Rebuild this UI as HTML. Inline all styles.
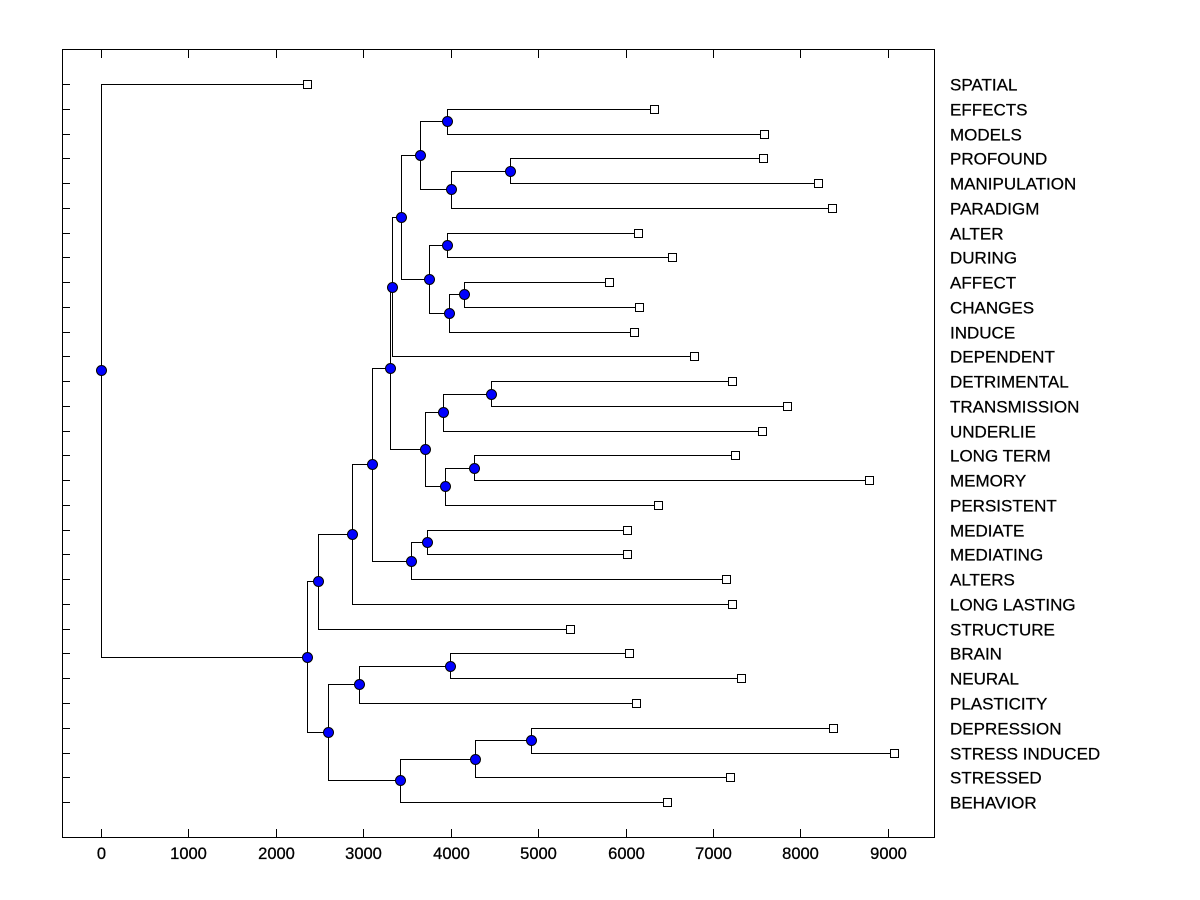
<!DOCTYPE html>
<html><head><meta charset="utf-8"><style>
body{margin:0;background:#fff;}
svg{display:block;font-family:"Liberation Sans",Arial,sans-serif;}
</style></head><body>
<svg id="chart" width="1200" height="900" xmlns="http://www.w3.org/2000/svg">
<rect x="62.5" y="49.5" width="872" height="788" fill="#fff" stroke="#000" stroke-width="1"/>
<g id="axes"></g><g id="links"></g><g id="marks"></g><g id="labels"></g>
</svg>
<script>
const leafNames=["SPATIAL","EFFECTS","MODELS","PROFOUND","MANIPULATION","PARADIGM","ALTER","DURING","AFFECT","CHANGES","INDUCE","DEPENDENT","DETRIMENTAL","TRANSMISSION","UNDERLIE","LONG TERM","MEMORY","PERSISTENT","MEDIATE","MEDIATING","ALTERS","LONG LASTING","STRUCTURE","BRAIN","NEURAL","PLASTICITY","DEPRESSION","STRESS INDUCED","STRESSED","BEHAVIOR"];
const leafValues=[2357,6327,7586,7574,8204,8364,6144,6533,5812,6156,6098,6785,7220,7849,7563,7254,8787,6373,6018,6018,7151,7220,5366,6041,7323,6121,8375,9073,7197,6476];
const mergeLeft=[1,3,31,30,6,8,35,34,33,38,12,40,15,42,41,39,18,46,45,48,49,23,51,26,53,54,52,50,0];
const mergeRight=[2,4,5,32,7,9,10,36,37,11,13,14,16,17,43,44,19,20,47,21,22,24,25,27,28,29,55,56,57];
const mergeHeights=[3959,4680,4005,3650,3959,4153,3982,3753,3432,3330,4462,3913,4268,3936,3707,3307,3730,3547,3101,2872,2483,3993,2952,4920,4279,3421,2597,2357,0];
const xTicks=[0,1000,2000,3000,4000,5000,6000,7000,8000,9000];

const NS="http://www.w3.org/2000/svg";
const xs=v=>101+v*0.08742;
const ys=i=>84+i*24.76;
function mk(tag,attrs,parent){const e=document.createElementNS(NS,tag);for(const k in attrs)e.setAttribute(k,attrs[k]);document.getElementById(parent).appendChild(e);return e;}

xTicks.forEach(t=>{
  const x=Math.round(xs(t))+0.5;
  let e=mk('line',{x1:x,x2:x,y1:837,y2:829,stroke:'#000'},'axes');
  
  e=mk('line',{x1:x,x2:x,y1:50,y2:58,stroke:'#000'},'axes');
  
  e=mk('text',{x:x,y:859,'font-size':16.5,'text-anchor':'middle','stroke':'#000','stroke-width':0.3},'axes');
  e.textContent=t;
  
});
leafNames.forEach((n,i)=>{
  const y=Math.round(ys(i))+0.5;
  let e=mk('line',{x1:62,x2:70,y1:y,y2:y,stroke:'#000'},'axes');
  
  e=mk('text',{x:950,y:y+6,'font-size':17,'stroke':'#000','stroke-width':0.25},'labels');
  e.textContent=n;
  
});

const nx=[],ny=[];
leafValues.forEach((v,i)=>{nx.push(xs(v));ny.push(ys(i));});
mergeHeights.forEach((h,k)=>{
  const a=mergeLeft[k],b=mergeRight[k];
  nx.push(xs(h));ny.push((ny[a]+ny[b])/2);
});
mergeHeights.forEach((h,k)=>{
  const id=leafValues.length+k,a=mergeLeft[k],b=mergeRight[k];
  const x=Math.round(nx[id])+0.5;
  const p=mk('path',{d:`M${Math.round(nx[a])} ${Math.round(ny[a])+0.5}H${x}V${Math.round(ny[b])+0.5}H${Math.round(nx[b])}`,fill:'none',stroke:'#000','stroke-width':1},'links');
  
});
leafValues.forEach((v,i)=>{
  const r=mk('rect',{x:Math.round(nx[i])-3.5,y:Math.round(ny[i])-3.5,width:8,height:8,fill:'#fff',stroke:'#000'},'marks');
  
});
mergeHeights.forEach((h,k)=>{
  const id=leafValues.length+k;
  const c=mk('circle',{cx:Math.round(nx[id])+0.5,cy:Math.round(ny[id])+0.5,r:5,fill:'#0000ff',stroke:'#000','stroke-width':1},'marks');
  
});
</script>
</body></html>
